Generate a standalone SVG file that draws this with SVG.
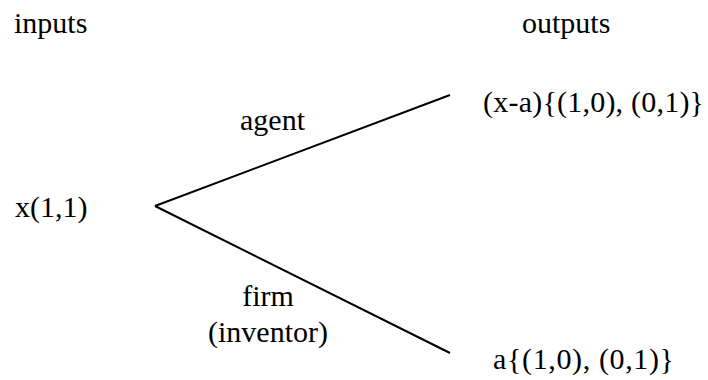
<svg xmlns="http://www.w3.org/2000/svg" width="708" height="380" viewBox="0 0 708 380">
<style>
text{font-family:'Liberation Serif','Times New Roman',serif;font-size:30px;fill:#000}
.e{stroke:#000;stroke-width:2;fill:none}
</style>
<rect width="708" height="380" fill="#fff"/>
<g id="header">
<text x="14" y="33">inputs</text>
<text x="522" y="33">outputs</text>
</g>
<g id="connectors">
<line class="e" x1="155" y1="206" x2="450" y2="95"/>
<line class="e" x1="155" y1="206" x2="450" y2="353"/>
</g>
<g id="n-input"><text x="15" y="217">x(1,1)</text></g>
<g id="n-out1"><text x="483" y="112" textLength="221" lengthAdjust="spacing">(x-a){(1,0), (0,1)}</text></g>
<g id="n-out2"><text x="493" y="369" textLength="181" lengthAdjust="spacing">a{(1,0), (0,1)}</text></g>
<g id="l-agent"><text x="240" y="130">agent</text></g>
<g id="l-firm"><text x="268" y="306" text-anchor="middle">firm</text><text x="268" y="342" text-anchor="middle">(inventor)</text></g>
</svg>
